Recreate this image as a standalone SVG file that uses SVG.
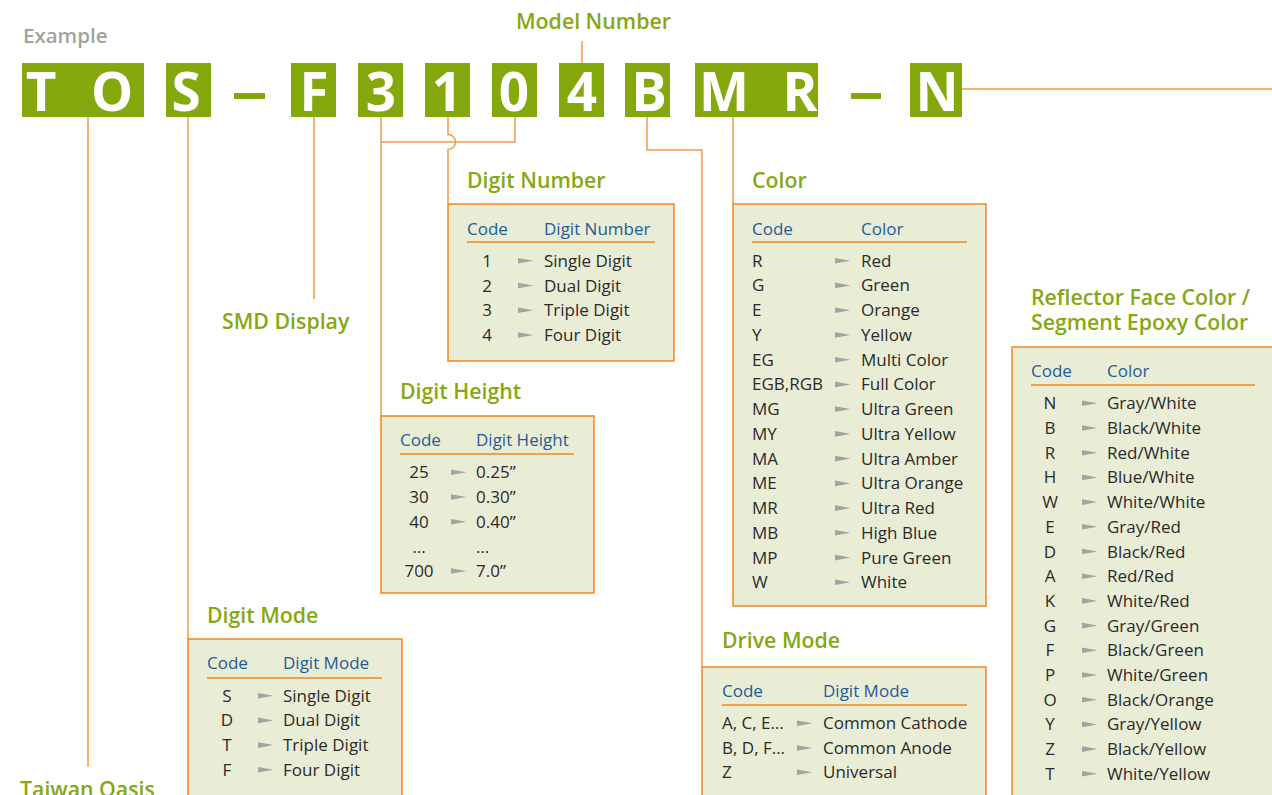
<svg xmlns="http://www.w3.org/2000/svg" xmlns:xlink="http://www.w3.org/1999/xlink" width="1272" height="795" viewBox="0 0 1272 795">
<style>
.blk{fill:#85A80D}
.let{font-family:"Open Sans","Noto Sans",sans-serif;font-weight:700;font-size:53px;fill:#ffffff;text-anchor:middle}
.ttl{font-family:"Open Sans","Noto Sans",sans-serif;font-weight:600;font-size:21.3px;fill:#86A812}
.ex{font-family:"Open Sans","Noto Sans",sans-serif;font-weight:600;font-size:20.5px;fill:#A2A39C}
.hdr{font-family:"Open Sans","Noto Sans",sans-serif;font-size:17px;fill:#1E5C98}
.txt{font-family:"Open Sans","Noto Sans",sans-serif;font-size:17px;fill:#2A2A2A}
.mid{text-anchor:middle}
.box{fill:#EAEDD6;stroke:#F0861E;stroke-width:1.5}
.ln{fill:none;stroke:#F39B45;stroke-width:1.5}
.ul{stroke:#F0861E;stroke-width:1.5}
</style>
<defs>
<path id="ar" d="M0,-2.8 L15.5,0 L0,2.8 Z" fill="#A3A3A3"/>
</defs>
<rect width="1272" height="795" fill="#ffffff"/>

<g id="connectors">
<path class="ln" d="M88,117 V767"/>
<path class="ln" d="M188,117 V639"/>
<path class="ln" d="M314,117 V299"/>
<path class="ln" d="M381,117 V416"/>
<path class="ln" d="M515,117 V142 H381"/>
<path class="ln" d="M448,117 V134.5 A7.5,7.5 0 0 1 448,149.5 V204"/>
<path class="ln" d="M582,63 V41"/>
<path class="ln" d="M647,117 V150 H702 V667"/>
<path class="ln" d="M733,117 V204"/>
<path class="ln" d="M962,89 H1272"/>
</g>

<g id="header">
<text class="ex" x="23" y="43">Example</text>
<text class="ttl" x="516" y="29">Model Number</text>
</g>

<g id="code">
<rect class="blk" x="22" y="63" width="122" height="54"/>
<text class="let" x="41" y="111">T</text>
<text class="let" x="112" y="111">O</text>
<rect class="blk" x="166" y="63" width="45" height="54"/>
<text class="let" x="186" y="111">S</text>
<rect class="blk" x="234" y="93" width="31" height="6"/>
<rect class="blk" x="291" y="63" width="45" height="54"/>
<text class="let" x="314" y="111">F</text>
<rect class="blk" x="358" y="63" width="45" height="54"/>
<text class="let" x="381" y="111">3</text>
<rect class="blk" x="425" y="63" width="45" height="54"/>
<text class="let" x="447" y="111">1</text>
<rect class="blk" x="492" y="63" width="45" height="54"/>
<text class="let" x="514" y="111">0</text>
<rect class="blk" x="559" y="63" width="45" height="54"/>
<text class="let" x="582" y="111">4</text>
<rect class="blk" x="625" y="63" width="45" height="54"/>
<text class="let" x="649" y="111">B</text>
<rect class="blk" x="695" y="63" width="123" height="54"/>
<text class="let" x="724" y="111">M</text>
<text class="let" x="800" y="111">R</text>
<rect class="blk" x="851" y="93" width="30" height="6"/>
<rect class="blk" x="910" y="63" width="52" height="54"/>
<text class="let" x="937" y="111">N</text>
</g>

<g id="taiwan-oasis">
<text class="ttl" x="20" y="797">Taiwan Oasis</text>
</g>

<g id="smd-display">
<text class="ttl" x="222" y="329">SMD Display</text>
</g>

<g id="digit-number">
<text class="ttl" x="467" y="188">Digit Number</text>
<rect class="box" x="448" y="204" width="226" height="157"/>
<text class="hdr" x="467" y="235">Code</text>
<text class="hdr" x="544" y="235">Digit Number</text>
<line class="ul" x1="467" y1="242" x2="655" y2="242"/>
<text class="txt mid" x="487" y="266.7">1</text><use xlink:href="#ar" x="518" y="260.7"/><text class="txt" x="544" y="266.7">Single Digit</text>
<text class="txt mid" x="487" y="291.5">2</text><use xlink:href="#ar" x="518" y="285.5"/><text class="txt" x="544" y="291.5">Dual Digit</text>
<text class="txt mid" x="487" y="316.3">3</text><use xlink:href="#ar" x="518" y="310.3"/><text class="txt" x="544" y="316.3">Triple Digit</text>
<text class="txt mid" x="487" y="341">4</text><use xlink:href="#ar" x="518" y="335"/><text class="txt" x="544" y="341">Four Digit</text>
</g>

<g id="digit-height">
<text class="ttl" x="400" y="399">Digit Height</text>
<rect class="box" x="381" y="416" width="213" height="177"/>
<text class="hdr" x="400" y="446">Code</text>
<text class="hdr" x="476" y="446">Digit Height</text>
<line class="ul" x1="400" y1="454" x2="574" y2="454"/>
<text class="txt mid" x="419" y="478.3">25</text><use xlink:href="#ar" x="451" y="472.3"/><text class="txt" x="476" y="478.3">0.25”</text>
<text class="txt mid" x="419" y="503">30</text><use xlink:href="#ar" x="451" y="497"/><text class="txt" x="476" y="503">0.30”</text>
<text class="txt mid" x="419" y="527.8">40</text><use xlink:href="#ar" x="451" y="521.8"/><text class="txt" x="476" y="527.8">0.40”</text>
<text class="txt mid" x="419" y="552.5">…</text><text class="txt" x="476" y="552.5">…</text>
<text class="txt mid" x="419" y="577">700</text><use xlink:href="#ar" x="451" y="571"/><text class="txt" x="476" y="577">7.0”</text>
</g>

<g id="digit-mode">
<text class="ttl" x="207" y="623">Digit Mode</text>
<rect class="box" x="188" y="639" width="214" height="170"/>
<text class="hdr" x="207" y="669">Code</text>
<text class="hdr" x="283" y="669">Digit Mode</text>
<line class="ul" x1="207" y1="678" x2="382" y2="678"/>
<text class="txt mid" x="227" y="701.7">S</text><use xlink:href="#ar" x="258" y="695.7"/><text class="txt" x="283" y="701.7">Single Digit</text>
<text class="txt mid" x="227" y="726.4">D</text><use xlink:href="#ar" x="258" y="720.4"/><text class="txt" x="283" y="726.4">Dual Digit</text>
<text class="txt mid" x="227" y="751.1">T</text><use xlink:href="#ar" x="258" y="745.1"/><text class="txt" x="283" y="751.1">Triple Digit</text>
<text class="txt mid" x="227" y="775.8">F</text><use xlink:href="#ar" x="258" y="769.8"/><text class="txt" x="283" y="775.8">Four Digit</text>
</g>

<g id="color">
<text class="ttl" x="752" y="188">Color</text>
<rect class="box" x="733" y="204" width="253" height="402"/>
<text class="hdr" x="752" y="235">Code</text>
<text class="hdr" x="861" y="235">Color</text>
<line class="ul" x1="752" y1="242" x2="967" y2="242"/>
<text class="txt" x="752" y="266.7">R</text><use xlink:href="#ar" x="835" y="260.7"/><text class="txt" x="861" y="266.7">Red</text>
<text class="txt" x="752" y="291.4">G</text><use xlink:href="#ar" x="835" y="285.4"/><text class="txt" x="861" y="291.4">Green</text>
<text class="txt" x="752" y="316.2">E</text><use xlink:href="#ar" x="835" y="310.2"/><text class="txt" x="861" y="316.2">Orange</text>
<text class="txt" x="752" y="340.9">Y</text><use xlink:href="#ar" x="835" y="334.9"/><text class="txt" x="861" y="340.9">Yellow</text>
<text class="txt" x="752" y="365.7">EG</text><use xlink:href="#ar" x="835" y="359.7"/><text class="txt" x="861" y="365.7">Multi Color</text>
<text class="txt" x="752" y="390.4">EGB,RGB</text><use xlink:href="#ar" x="835" y="384.4"/><text class="txt" x="861" y="390.4">Full Color</text>
<text class="txt" x="752" y="415.1">MG</text><use xlink:href="#ar" x="835" y="409.1"/><text class="txt" x="861" y="415.1">Ultra Green</text>
<text class="txt" x="752" y="439.9">MY</text><use xlink:href="#ar" x="835" y="433.9"/><text class="txt" x="861" y="439.9">Ultra Yellow</text>
<text class="txt" x="752" y="464.6">MA</text><use xlink:href="#ar" x="835" y="458.6"/><text class="txt" x="861" y="464.6">Ultra Amber</text>
<text class="txt" x="752" y="489.4">ME</text><use xlink:href="#ar" x="835" y="483.4"/><text class="txt" x="861" y="489.4">Ultra Orange</text>
<text class="txt" x="752" y="514.1">MR</text><use xlink:href="#ar" x="835" y="508.1"/><text class="txt" x="861" y="514.1">Ultra Red</text>
<text class="txt" x="752" y="538.8">MB</text><use xlink:href="#ar" x="835" y="532.8"/><text class="txt" x="861" y="538.8">High Blue</text>
<text class="txt" x="752" y="563.6">MP</text><use xlink:href="#ar" x="835" y="557.6"/><text class="txt" x="861" y="563.6">Pure Green</text>
<text class="txt" x="752" y="588.3">W</text><use xlink:href="#ar" x="835" y="582.3"/><text class="txt" x="861" y="588.3">White</text>
</g>

<g id="drive-mode">
<text class="ttl" x="722" y="648">Drive Mode</text>
<rect class="box" x="702" y="667" width="284" height="140"/>
<text class="hdr" x="722" y="697">Code</text>
<text class="hdr" x="823" y="697">Digit Mode</text>
<line class="ul" x1="722" y1="705" x2="967" y2="705"/>
<text class="txt" x="722" y="729.3">A, C, E…</text><use xlink:href="#ar" x="797" y="723.3"/><text class="txt" x="823" y="729.3">Common Cathode</text>
<text class="txt" x="722" y="754">B, D, F…</text><use xlink:href="#ar" x="797" y="748"/><text class="txt" x="823" y="754">Common Anode</text>
<text class="txt" x="722" y="778.3">Z</text><use xlink:href="#ar" x="797" y="772.3"/><text class="txt" x="823" y="778.3">Universal</text>
</g>

<g id="reflector">
<text class="ttl" x="1031" y="305">Reflector Face Color /</text>
<text class="ttl" x="1031" y="330">Segment Epoxy Color</text>
<rect class="box" x="1012" y="347" width="270" height="460"/>
<text class="hdr" x="1031" y="377">Code</text>
<text class="hdr" x="1107" y="377">Color</text>
<line class="ul" x1="1031" y1="385" x2="1255" y2="385"/>
<text class="txt mid" x="1050" y="409.3">N</text><use xlink:href="#ar" x="1082" y="403.3"/><text class="txt" x="1107" y="409.3">Gray/White</text>
<text class="txt mid" x="1050" y="434">B</text><use xlink:href="#ar" x="1082" y="428"/><text class="txt" x="1107" y="434">Black/White</text>
<text class="txt mid" x="1050" y="458.7">R</text><use xlink:href="#ar" x="1082" y="452.7"/><text class="txt" x="1107" y="458.7">Red/White</text>
<text class="txt mid" x="1050" y="483.4">H</text><use xlink:href="#ar" x="1082" y="477.4"/><text class="txt" x="1107" y="483.4">Blue/White</text>
<text class="txt mid" x="1050" y="508.1">W</text><use xlink:href="#ar" x="1082" y="502.1"/><text class="txt" x="1107" y="508.1">White/White</text>
<text class="txt mid" x="1050" y="532.8">E</text><use xlink:href="#ar" x="1082" y="526.8"/><text class="txt" x="1107" y="532.8">Gray/Red</text>
<text class="txt mid" x="1050" y="557.5">D</text><use xlink:href="#ar" x="1082" y="551.5"/><text class="txt" x="1107" y="557.5">Black/Red</text>
<text class="txt mid" x="1050" y="582.2">A</text><use xlink:href="#ar" x="1082" y="576.2"/><text class="txt" x="1107" y="582.2">Red/Red</text>
<text class="txt mid" x="1050" y="606.9">K</text><use xlink:href="#ar" x="1082" y="600.9"/><text class="txt" x="1107" y="606.9">White/Red</text>
<text class="txt mid" x="1050" y="631.6">G</text><use xlink:href="#ar" x="1082" y="625.6"/><text class="txt" x="1107" y="631.6">Gray/Green</text>
<text class="txt mid" x="1050" y="656.3">F</text><use xlink:href="#ar" x="1082" y="650.3"/><text class="txt" x="1107" y="656.3">Black/Green</text>
<text class="txt mid" x="1050" y="681">P</text><use xlink:href="#ar" x="1082" y="675"/><text class="txt" x="1107" y="681">White/Green</text>
<text class="txt mid" x="1050" y="705.7">O</text><use xlink:href="#ar" x="1082" y="699.7"/><text class="txt" x="1107" y="705.7">Black/Orange</text>
<text class="txt mid" x="1050" y="730.4">Y</text><use xlink:href="#ar" x="1082" y="724.4"/><text class="txt" x="1107" y="730.4">Gray/Yellow</text>
<text class="txt mid" x="1050" y="755.1">Z</text><use xlink:href="#ar" x="1082" y="749.1"/><text class="txt" x="1107" y="755.1">Black/Yellow</text>
<text class="txt mid" x="1050" y="779.8">T</text><use xlink:href="#ar" x="1082" y="773.8"/><text class="txt" x="1107" y="779.8">White/Yellow</text>
</g>
</svg>
